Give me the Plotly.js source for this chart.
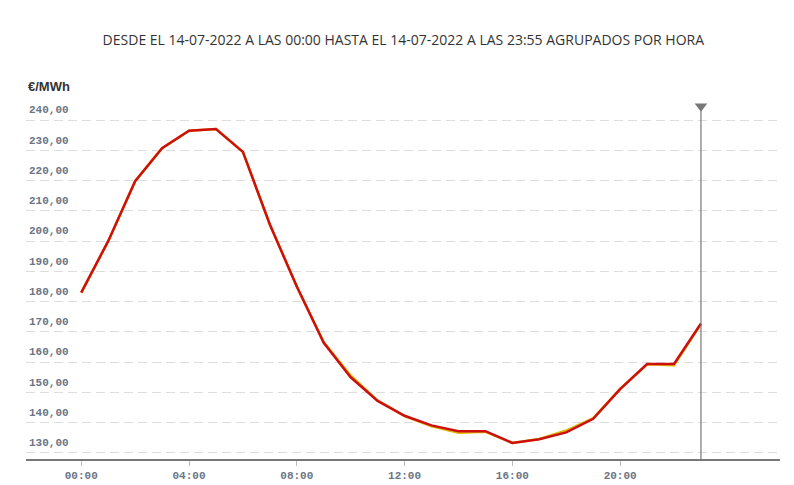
<!DOCTYPE html>
<html>
<head>
<meta charset="utf-8">
<script src="https://cdn.plot.ly/plotly-3.0.1.min.js"></script>
<style>
html,body{margin:0;padding:0;background:#fff;}
#chart{width:794px;height:485px;}
</style>
</head>
<body>
<div id="chart"></div>
<script>
// Data
const hours = ["00:00","01:00","02:00","03:00","04:00","05:00","06:00","07:00","08:00","09:00","10:00","11:00",
               "12:00","13:00","14:00","15:00","16:00","17:00","18:00","19:00","20:00","21:00","22:00","23:00"];
const day = "2022-07-14";
const priceRed = [183.0, 200.0, 219.8, 230.7, 236.5, 237.1, 229.5, 205.5, 185.0, 166.4, 155.0, 147.2,
                  142.3, 139.1, 137.2, 137.2, 133.3, 134.5, 136.8, 141.3, 151.1, 159.4, 159.4, 172.8];
const priceYellow = [183.0, 200.0, 219.8, 230.7, 236.5, 237.1, 229.5, 205.5, 185.0, 166.6, 155.6, 147.3,
                  142.2, 138.8, 136.7, 137.0, 133.3, 134.6, 137.4, 141.5, 151.2, 159.3, 159.0, 172.6];
const yTicks = [130, 140, 150, 160, 170, 180, 190, 200, 210, 220, 230, 240];
const xTickHours = ["00:00","04:00","08:00","12:00","16:00","20:00"];
const cursorHour = "23:00";
const titleText = "DESDE EL 14-07-2022 A LAS 00:00 HASTA EL 14-07-2022 A LAS 23:55 AGRUPADOS POR HORA";
const unitText = "€/MWh";

const xs = hours.map(h => day + " " + h);
const cursorX = day + " " + cursorHour;
const tickFont = {family: "'Liberation Mono', 'DejaVu Sans Mono', monospace", size: 11, color: "#6b7585", weight: 600};

const traces = [
  {x: xs, y: priceYellow, type: "scatter", mode: "lines", line: {color: "#e3b800", width: 2.5}, hoverinfo: "skip"},
  {x: xs, y: priceRed, type: "scatter", mode: "lines", line: {color: "#cc1010", width: 2.5}, hoverinfo: "skip"},
  {x: [cursorX], y: [244.6], type: "scatter", mode: "markers", cliponaxis: false,
   marker: {symbol: "triangle-down", size: 11, color: "#777777"}, hoverinfo: "skip"}
];

const layout = {
  width: 794, height: 485,
  margin: {l: 26, r: 14, t: 102, b: 26},
  paper_bgcolor: "#fff", plot_bgcolor: "#fff",
  showlegend: false,
  separators: ",.",
  title: {text: titleText, x: 0.508, xanchor: "center", y: 0.918, yanchor: "middle",
          font: {family: "'Open Sans', sans-serif", size: 14, color: "#333333"}},
  xaxis: {
    type: "date",
    range: ["2022-07-13 21:57", "2022-07-15 01:56"],
    tickvals: xTickHours.map(h => day + " " + h),
    ticktext: xTickHours,
    ticks: "outside", ticklen: 5, tickcolor: "#bbbbbb", tickwidth: 1,
    tickfont: tickFont,
    showgrid: false, zeroline: false,
    showline: true, linecolor: "#777777", linewidth: 1.5,
    fixedrange: true
  },
  yaxis: {
    range: [128.0, 246],
    tickvals: yTicks,
    tickformat: ".2f",
    ticklabelposition: "inside top",
    ticklabelshift: -3,
    tickfont: tickFont,
    ticks: "",
    showgrid: true, gridcolor: "#dddddd", gridwidth: 1, griddash: "9px,5px",
    zeroline: false, showline: false,
    fixedrange: true
  },
  shapes: [
    {type: "line", xref: "x", yref: "y", x0: cursorX, x1: cursorX, y0: 128.0, y1: 244,
     line: {color: "#777777", width: 1.2}}
  ],
  annotations: [
    {text: "<b>" + unitText + "</b>", xref: "paper", yref: "paper", x: 0, y: 1, xanchor: "left", yanchor: "middle",
     yshift: 16, xshift: 0, showarrow: false,
     font: {family: "'Liberation Sans', Arial, sans-serif", size: 13, color: "#333333"}}
  ]
};

Plotly.newPlot("chart", traces, layout, {displayModeBar: false, staticPlot: true});
</script>
</body>
</html>
